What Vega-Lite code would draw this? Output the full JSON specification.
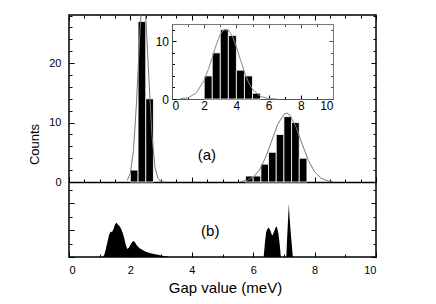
{
  "$schema": "https://vega.github.io/schema/vega-lite/v6.json",
  "autosize": {"type": "none"},
  "padding": {"left": 69, "top": 15, "right": 60, "bottom": 47},
  "width": 307,
  "height": 242,
  "config": {
    "font": "Liberation Sans",
    "view": {"stroke": "black", "strokeWidth": 1.5},
    "axis": {"grid": false, "domain": false, "labelFontSize": 11, "labelColor": "black", "tickColor": "black", "tickWidth": 1, "titleColor": "black", "titleFontWeight": "normal"}
  },
  "datasets": {
    "mainBars": [
      {"x0": 2.0, "x1": 2.25, "count": 2},
      {"x0": 2.25, "x1": 2.5, "count": 27},
      {"x0": 2.5, "x1": 2.75, "count": 14},
      {"x0": 5.75, "x1": 6.0, "count": 1},
      {"x0": 6.0, "x1": 6.25, "count": 1},
      {"x0": 6.25, "x1": 6.5, "count": 3},
      {"x0": 6.5, "x1": 6.75, "count": 5},
      {"x0": 6.75, "x1": 7.0, "count": 8},
      {"x0": 7.0, "x1": 7.25, "count": 11},
      {"x0": 7.25, "x1": 7.5, "count": 10},
      {"x0": 7.5, "x1": 7.75, "count": 4}
    ],
    "mainFit": [
      {"peak": "low", "x": 1.9, "y": 0.29},
      {"peak": "low", "x": 2.0, "y": 1.5},
      {"peak": "low", "x": 2.1, "y": 5.3},
      {"peak": "low", "x": 2.2, "y": 13.4},
      {"peak": "low", "x": 2.3, "y": 24.2},
      {"peak": "low", "x": 2.35, "y": 28.5},
      {"peak": "low", "x": 2.42, "y": 31},
      {"peak": "low", "x": 2.5, "y": 27.8},
      {"peak": "low", "x": 2.6, "y": 17.7},
      {"peak": "low", "x": 2.7, "y": 8.0},
      {"peak": "low", "x": 2.8, "y": 2.5},
      {"peak": "low", "x": 2.9, "y": 0.57},
      {"peak": "low", "x": 3.0, "y": 0.09},
      {"peak": "low", "x": 3.1, "y": 0},
      {"peak": "high", "x": 5.6, "y": 0.08},
      {"peak": "high", "x": 5.8, "y": 0.28},
      {"peak": "high", "x": 6.0, "y": 0.83},
      {"peak": "high", "x": 6.2, "y": 2.0},
      {"peak": "high", "x": 6.4, "y": 4.07},
      {"peak": "high", "x": 6.6, "y": 6.9},
      {"peak": "high", "x": 6.8, "y": 9.7},
      {"peak": "high", "x": 7.0, "y": 11.4},
      {"peak": "high", "x": 7.1, "y": 11.6},
      {"peak": "high", "x": 7.2, "y": 11.2},
      {"peak": "high", "x": 7.4, "y": 9.2},
      {"peak": "high", "x": 7.6, "y": 6.3},
      {"peak": "high", "x": 7.8, "y": 3.6},
      {"peak": "high", "x": 8.0, "y": 1.71},
      {"peak": "high", "x": 8.2, "y": 0.68},
      {"peak": "high", "x": 8.4, "y": 0.23},
      {"peak": "high", "x": 8.6, "y": 0.06}
    ],
    "insetBars": [
      {"x0": 2.0, "x1": 2.5, "count": 4},
      {"x0": 2.5, "x1": 3.0, "count": 8},
      {"x0": 3.0, "x1": 3.5, "count": 12},
      {"x0": 3.5, "x1": 4.0, "count": 11},
      {"x0": 4.0, "x1": 4.5, "count": 5},
      {"x0": 4.5, "x1": 5.0, "count": 4},
      {"x0": 5.0, "x1": 5.5, "count": 1}
    ],
    "insetFit": [
      {"x": 0.5, "y": 0.03},
      {"x": 1.0, "y": 0.22},
      {"x": 1.5, "y": 1.02},
      {"x": 2.0, "y": 3.25},
      {"x": 2.25, "y": 5.07},
      {"x": 2.5, "y": 7.2},
      {"x": 2.75, "y": 9.4},
      {"x": 3.0, "y": 11.2},
      {"x": 3.25, "y": 12.1},
      {"x": 3.5, "y": 12.0},
      {"x": 3.75, "y": 10.9},
      {"x": 4.0, "y": 9.0},
      {"x": 4.25, "y": 6.8},
      {"x": 4.5, "y": 4.7},
      {"x": 4.75, "y": 2.9},
      {"x": 5.0, "y": 1.69},
      {"x": 5.5, "y": 0.43},
      {"x": 6.0, "y": 0.07},
      {"x": 6.5, "y": 0.01}
    ],
    "density": [
      {"x": 1.1, "v": 0},
      {"x": 1.15, "v": 0.08},
      {"x": 1.2, "v": 0.3},
      {"x": 1.25, "v": 0.55},
      {"x": 1.3, "v": 0.8},
      {"x": 1.35, "v": 0.95},
      {"x": 1.4, "v": 0.92},
      {"x": 1.45, "v": 1.05},
      {"x": 1.5, "v": 1.22},
      {"x": 1.55, "v": 1.28},
      {"x": 1.6, "v": 1.2},
      {"x": 1.65, "v": 1.15},
      {"x": 1.7, "v": 1.05},
      {"x": 1.75, "v": 0.9},
      {"x": 1.8, "v": 0.7},
      {"x": 1.85, "v": 0.45},
      {"x": 1.9, "v": 0.3},
      {"x": 1.95, "v": 0.35},
      {"x": 2.0, "v": 0.45},
      {"x": 2.05, "v": 0.55},
      {"x": 2.1, "v": 0.6},
      {"x": 2.15, "v": 0.55},
      {"x": 2.2, "v": 0.45},
      {"x": 2.3, "v": 0.33},
      {"x": 2.4, "v": 0.26},
      {"x": 2.5, "v": 0.2},
      {"x": 2.6, "v": 0.16},
      {"x": 2.7, "v": 0.13},
      {"x": 2.8, "v": 0.1},
      {"x": 2.9, "v": 0.08},
      {"x": 3.0, "v": 0.06},
      {"x": 3.1, "v": 0.04},
      {"x": 3.2, "v": 0.02},
      {"x": 3.25, "v": 0},
      {"x": 6.34, "v": 0},
      {"x": 6.38, "v": 0.5},
      {"x": 6.42, "v": 0.92},
      {"x": 6.46, "v": 1.05},
      {"x": 6.5, "v": 1.1},
      {"x": 6.55, "v": 1.02},
      {"x": 6.6, "v": 0.85},
      {"x": 6.63, "v": 0.8},
      {"x": 6.68, "v": 0.95},
      {"x": 6.73, "v": 1.1},
      {"x": 6.77, "v": 1.14},
      {"x": 6.82, "v": 0.9},
      {"x": 6.87, "v": 0.4},
      {"x": 6.9, "v": 0},
      {"x": 7.08, "v": 0},
      {"x": 7.1, "v": 0.6},
      {"x": 7.14, "v": 1.5},
      {"x": 7.16, "v": 1.98},
      {"x": 7.19, "v": 1.4},
      {"x": 7.23, "v": 0.8},
      {"x": 7.27, "v": 0.3},
      {"x": 7.29, "v": 0}
    ],
    "labelA": [{"x": 4.49, "y": 4.62, "t": "(a)"}],
    "labelB": [{"x": 4.6, "v": 0.97, "t": "(b)"}]
  },
  "resolve": {
    "scale": {"x": "independent", "y": "independent"},
    "axis": {"x": "independent", "y": "independent"}
  },
  "layer": [
    {
      "data": {"name": "mainBars"},
      "mark": {"type": "rect", "color": "black", "stroke": "white", "strokeWidth": 0.8},
      "encoding": {
        "x": {"field": "x0", "type": "quantitative",
          "scale": {"domain": [0, 10], "range": [0, 307], "nice": false, "zero": false},
          "axis": {"orient": "bottom", "offset": -75, "values": [0,0.5,1,1.5,2,2.5,3,3.5,4,4.5,5,5.5,6,6.5,7,7.5,8,8.5,9,9.5,10],
            "labels": false, "title": null, "domain": true, "domainColor": "black", "domainWidth": 1.5,
            "tickSize": {"condition": {"test": "datum.value % 2 === 0", "value": -5}, "value": -3}}},
        "x2": {"field": "x1"},
        "y": {"field": "count", "type": "quantitative",
          "scale": {"domain": [0, 28.1], "range": [167, 0], "nice": false, "zero": false},
          "axis": {"orient": "left", "values": [0,2,4,6,8,10,12,14,16,18,20,22,24,26,28],
            "labelExpr": "datum.value % 10 === 0 ? datum.label : ''", "labelPadding": 13,
            "tickSize": {"condition": {"test": "datum.value % 10 === 0", "value": -5}, "value": -3},
            "title": "Counts", "titleFontSize": 13, "titleX": -35, "titleY": 129, "titleAngle": 270,
            "titleBaseline": "middle", "titleAlign": "center"}},
        "y2": {"datum": 0}
      }
    },
    {
      "data": {"name": "mainFit"},
      "mark": {"type": "line", "color": "#777777", "strokeWidth": 1, "clip": true},
      "encoding": {
        "x": {"field": "x", "type": "quantitative",
          "scale": {"domain": [0, 10], "range": [0, 307], "nice": false, "zero": false},
          "axis": {"orient": "top", "values": [0,0.5,1,1.5,2,2.5,3,3.5,4,4.5,5,5.5,6,6.5,7,7.5,8,8.5,9,9.5,10],
            "labels": false, "title": null,
            "tickSize": {"condition": {"test": "datum.value % 2 === 0", "value": -5}, "value": -3}}},
        "y": {"field": "y", "type": "quantitative",
          "scale": {"domain": [0, 28.1], "range": [167, 0], "nice": false, "zero": false},
          "axis": {"orient": "right", "values": [0,2,4,6,8,10,12,14,16,18,20,22,24,26,28],
            "labels": false, "title": null,
            "tickSize": {"condition": {"test": "datum.value % 10 === 0", "value": -5}, "value": -3}}},
        "detail": {"field": "peak"}
      }
    },
    {
      "data": {"name": "density"},
      "mark": {"type": "area", "color": "black"},
      "encoding": {
        "x": {"field": "x", "type": "quantitative",
          "scale": {"domain": [0, 10], "range": [0, 307], "nice": false, "zero": false},
          "axis": {"orient": "bottom", "values": [0,0.5,1,1.5,2,2.5,3,3.5,4,4.5,5,5.5,6,6.5,7,7.5,8,8.5,9,9.5,10],
            "format": "d",
            "labelExpr": "datum.value % 2 === 0 ? datum.label : ''", "labelPadding": 12.5,
            "tickSize": {"condition": {"test": "datum.value % 2 === 0", "value": -5}, "value": -3},
            "title": "Gap value (meV)", "titleFontSize": 15, "titleX": 156, "titleY": 35, "titleBaseline": "alphabetic"}},
        "y": {"field": "v", "type": "quantitative",
          "scale": {"domain": [0, 2.8], "range": [242, 167], "nice": false, "zero": false},
          "axis": {"orient": "left", "values": [0, 0.5, 1, 1.5, 2, 2.5], "labels": false, "title": null,
            "tickSize": {"condition": {"test": "datum.value % 1 === 0", "value": -5}, "value": -3}}},
        "y2": {"datum": 0}
      }
    },
    {
      "data": {"name": "labelB"},
      "mark": {"type": "text", "fontSize": 15, "color": "black", "align": "center", "baseline": "middle"},
      "encoding": {
        "x": {"field": "x", "type": "quantitative",
          "scale": {"domain": [0, 10], "range": [0, 307], "nice": false, "zero": false}, "axis": null},
        "y": {"field": "v", "type": "quantitative",
          "scale": {"domain": [0, 2.8], "range": [242, 167], "nice": false, "zero": false},
          "axis": {"orient": "right", "values": [0, 0.5, 1, 1.5, 2, 2.5], "labels": false, "title": null,
            "tickSize": {"condition": {"test": "datum.value % 1 === 0", "value": -5}, "value": -3}}},
        "text": {"field": "t"}
      }
    },
    {
      "data": {"name": "labelA"},
      "mark": {"type": "text", "fontSize": 15, "color": "black", "align": "center", "baseline": "middle"},
      "encoding": {
        "x": {"field": "x", "type": "quantitative",
          "scale": {"domain": [0, 10], "range": [0, 307], "nice": false, "zero": false}, "axis": null},
        "y": {"field": "y", "type": "quantitative",
          "scale": {"domain": [0, 28.1], "range": [167, 0], "nice": false, "zero": false}, "axis": null},
        "text": {"field": "t"}
      }
    },
    {
      "data": {"name": "insetBars"},
      "mark": {"type": "rect", "color": "black", "stroke": "white", "strokeWidth": 0.8},
      "encoding": {
        "x": {"field": "x0", "type": "quantitative",
          "scale": {"domain": [0, 10], "range": [103, 264], "nice": false, "zero": false},
          "axis": {"orient": "bottom", "offset": -158, "values": [0,1,2,3,4,5,6,7,8,9,10],
            "labelExpr": "datum.value % 2 === 0 ? datum.label : ''", "labelFontSize": 12, "labelPadding": 5.5,
            "title": null, "domain": true, "domainColor": "#555555", "domainWidth": 1,
            "tickSize": {"condition": {"test": "datum.value % 2 === 0", "value": -4}, "value": -2.5}}},
        "x2": {"field": "x1"},
        "y": {"field": "count", "type": "quantitative",
          "scale": {"domain": [0, 13], "range": [84, 9], "nice": false, "zero": false},
          "axis": {"orient": "left", "offset": -103, "values": [0,2,4,6,8,10,12],
            "labelExpr": "datum.value % 10 === 0 ? datum.label : ''", "labelFontSize": 12, "labelPadding": 7.5,
            "title": null, "domain": true, "domainColor": "#555555", "domainWidth": 1,
            "tickSize": {"condition": {"test": "datum.value % 10 === 0", "value": -4}, "value": -2.5}}},
        "y2": {"datum": 0}
      }
    },
    {
      "data": {"name": "insetFit"},
      "mark": {"type": "line", "color": "#888888", "strokeWidth": 1},
      "encoding": {
        "x": {"field": "x", "type": "quantitative",
          "scale": {"domain": [0, 10], "range": [103, 264], "nice": false, "zero": false},
          "axis": {"orient": "top", "offset": -9, "values": [0,1,2,3,4,5,6,7,8,9,10],
            "labels": false, "title": null, "domain": true, "domainColor": "#777777", "domainWidth": 1,
            "tickColor": "#555555",
            "tickSize": {"condition": {"test": "datum.value % 2 === 0", "value": -4}, "value": -2.5}}},
        "y": {"field": "y", "type": "quantitative",
          "scale": {"domain": [0, 13], "range": [84, 9], "nice": false, "zero": false},
          "axis": {"orient": "right", "offset": -43, "values": [0,2,4,6,8,10,12],
            "labels": false, "title": null, "domain": true, "domainColor": "#777777", "domainWidth": 1,
            "tickColor": "#555555",
            "tickSize": {"condition": {"test": "datum.value % 10 === 0", "value": -4}, "value": -2.5}}}
      }
    }
  ]
}
